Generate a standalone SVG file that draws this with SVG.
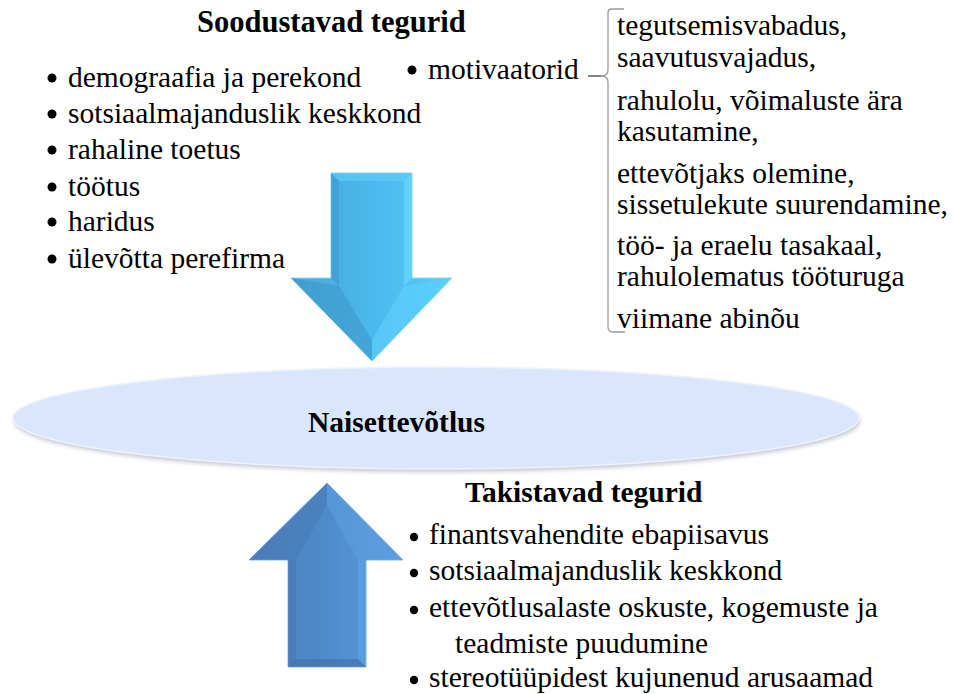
<svg xmlns="http://www.w3.org/2000/svg" width="955" height="694" viewBox="0 0 955 694">
<defs>
<style>
text{font-family:'Liberation Serif','Times New Roman',serif;font-size:29.5px;fill:#000}
.b{font-weight:bold}
.dot{fill:#000}
</style>
<linearGradient id="gDown" x1="0" y1="0" x2="1" y2="0">
<stop offset="0" stop-color="#4aa6da"/>
<stop offset="0.5" stop-color="#4ab8ec"/>
<stop offset="1" stop-color="#58cdfc"/>
</linearGradient>
<linearGradient id="gUp" x1="0" y1="0" x2="1" y2="0">
<stop offset="0" stop-color="#4c80bd"/>
<stop offset="0.5" stop-color="#4f8acb"/>
<stop offset="1" stop-color="#5a9fe0"/>
</linearGradient>
<filter id="blur" x="-5%" y="-20%" width="110%" height="140%"><feGaussianBlur stdDeviation="2"/></filter>
</defs>
<rect width="955" height="694" fill="#fff"/>

<g id="connectors">
<g id="arrow-down">
<polygon points="331,173 412,173 412,278 452,278 372,361 291,278 331,278" fill="url(#gDown)" stroke="#8fd8f8" stroke-width="1"/>
<polygon points="331,173 412,173 404,181 339,181" fill="#5fcaf5" opacity="0.7"/>
<polygon points="331,173 339,181 339,286 331,278" fill="#3f98cc" opacity="0.6"/>
<polygon points="412,173 404,181 404,286 412,278" fill="#66d8ff" opacity="0.7"/>
<polygon points="291,278 339,286 372,340 372,361" fill="#3d95c9" opacity="0.55"/>
<polygon points="452,278 404,286 372,340 372,361" fill="#5fd0ff" opacity="0.6"/>
</g>
<g id="arrow-up">
<polygon points="327,483 403,560 366,560 366,667 288,667 288,560 249,560" fill="url(#gUp)" stroke="#8ab8ea" stroke-width="1"/>
<polygon points="327,483 327,505 296,560 249,560" fill="#4a7cb8" opacity="0.6"/>
<polygon points="327,483 327,505 358,560 403,560" fill="#5c9ee0" opacity="0.6"/>
<polygon points="288,560 296,560 296,659 288,667" fill="#4876b0" opacity="0.6"/>
<polygon points="366,560 358,560 358,659 366,667" fill="#5fa4e6" opacity="0.6"/>
<polygon points="288,667 296,659 358,659 366,667" fill="#3f6fa8" opacity="0.6"/>
</g>
</g>

<g id="node-naisettevotlus">
<ellipse cx="437" cy="421" rx="423" ry="51" fill="#9aa3b0" opacity="0.6" filter="url(#blur)"/>
<ellipse cx="436" cy="418" rx="423" ry="51" fill="#dae6fb" stroke="#eef3fb" stroke-width="1.5"/>
<text class="b" x="308" y="432">Naisettevõtlus</text>
</g>

<g id="node-soodustavad">
<text class="b" x="197" y="32" style="font-size:30.5px">Soodustavad tegurid</text>
<circle class="dot" cx="52" cy="78" r="4.5"/><text x="68" y="87">demograafia ja perekond</text>
<circle class="dot" cx="52" cy="114" r="4.5"/><text x="68" y="123">sotsiaalmajanduslik keskkond</text>
<circle class="dot" cx="52" cy="150" r="4.5"/><text x="68" y="159">rahaline toetus</text>
<circle class="dot" cx="52" cy="187" r="4.5"/><text x="68" y="196">töötus</text>
<circle class="dot" cx="52" cy="222" r="4.5"/><text x="68" y="231">haridus</text>
<circle class="dot" cx="52" cy="259" r="4.5"/><text x="68" y="268">ülevõtta perefirma</text>
</g>

<g id="node-motivaatorid">
<circle class="dot" cx="412" cy="70" r="4.5"/><text x="428" y="79">motivaatorid</text>
<line x1="588" y1="76" x2="601" y2="76" stroke="#333" stroke-width="1.2"/>
<path d="M624,9 L612,9 Q608,9 608,13 L608,70 Q608,76 601,76 Q608,76 608,82 L608,327 Q608,332 613,332 L625,332" fill="none" stroke="#9a9a9a" stroke-width="1.3"/>
<text x="617" y="35">tegutsemisvabadus,</text>
<text x="617" y="67">saavutusvajadus,</text>
<text x="617" y="110">rahulolu, võimaluste ära</text>
<text x="617" y="141">kasutamine,</text>
<text x="617" y="183">ettevõtjaks olemine,</text>
<text x="617" y="214">sissetulekute suurendamine,</text>
<text x="617" y="255">töö- ja eraelu tasakaal,</text>
<text x="617" y="286">rahulolematus tööturuga</text>
<text x="617" y="328">viimane abinõu</text>
</g>

<g id="node-takistavad">
<text class="b" x="465" y="502">Takistavad tegurid</text>
<circle class="dot" cx="414" cy="537" r="4.2"/><text x="429" y="544">finantsvahendite ebapiisavus</text>
<circle class="dot" cx="414" cy="573" r="4.2"/><text x="429" y="580">sotsiaalmajanduslik keskkond</text>
<circle class="dot" cx="414" cy="610" r="4.2"/><text x="429" y="617">ettevõtlusalaste oskuste, kogemuste ja</text>
<text x="455" y="653">teadmiste puudumine</text>
<circle class="dot" cx="414" cy="680" r="4.2"/><text x="429" y="687">stereotüüpidest kujunenud arusaamad</text>
</g>
</svg>
